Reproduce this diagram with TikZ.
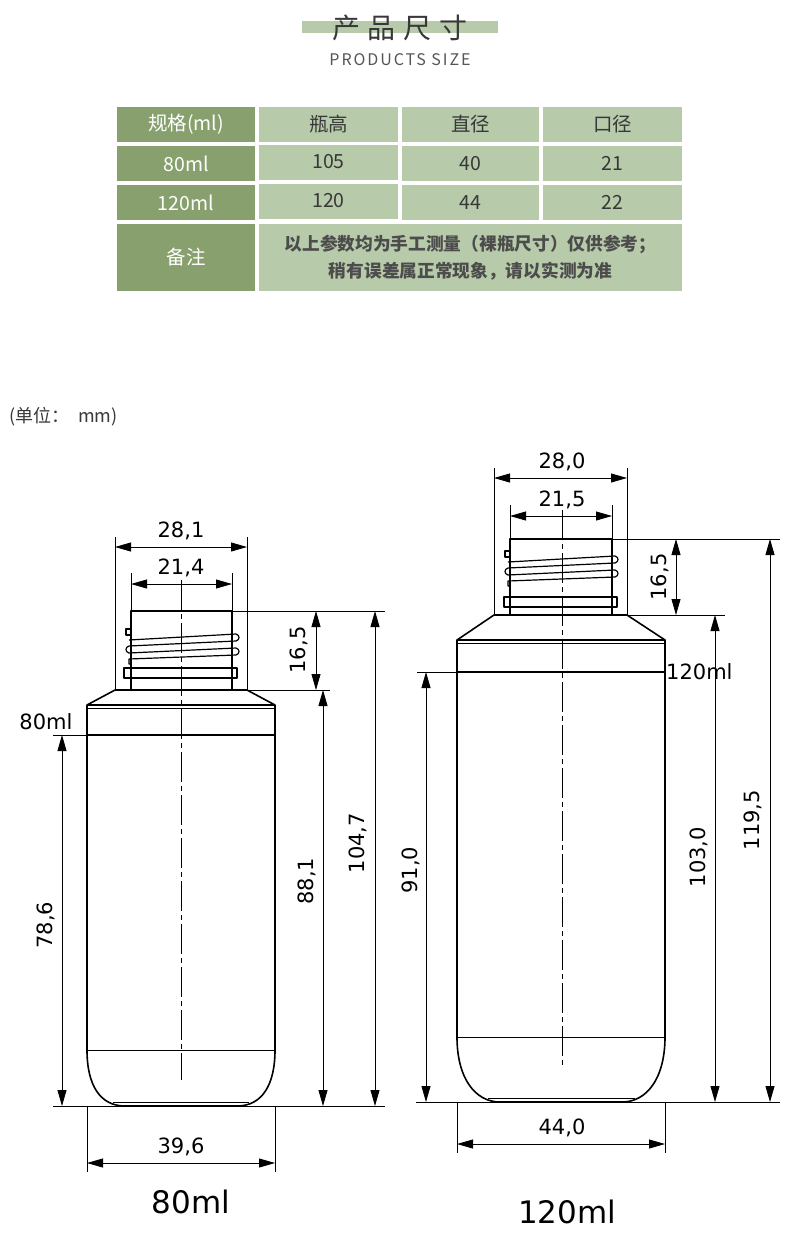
\documentclass[tikz,border=0pt]{standalone}
\usepackage{fontspec}
\usetikzlibrary{arrows.meta}
\newfontfamily\cjk{Noto Sans CJK SC}
\newfontfamily\dv{DejaVu Sans}
\newfontfamily\spacedfont[LetterSpace=12]{Noto Sans CJK SC}
\newcommand\fsz[1]{\fontsize{#1}{#1}\selectfont}
\definecolor{dkgreen}{HTML}{87A06E}
\definecolor{ltgreen}{HTML}{B7CAAA}
\definecolor{txtgrey}{HTML}{383838}
\newcommand\threadset{%
  \draw[threadline] (-5,-11) rectangle (0,-5);
  \draw[threadline] (-2,0)--(105,-6) .. controls (109,-5) and (109,0) .. (105,1) -- (-2,6)
     .. controls (-6,7) and (-6,12) .. (-2,13) -- (105,8) .. controls (109,9) and (109,14) .. (105,15)
     -- (-2,19) -- (-2,24) -- (0,24);
}
\begin{document}
\begin{tikzpicture}[x=1pt,y=-1pt,
 outline/.style={line width=1.6pt,line join=round},
 thinline/.style={line width=0.8pt},
 threadline/.style={line width=1.2pt,line join=round},
 dimline/.style={line width=0.8pt,{Triangle[length=16pt,width=9pt]}-{Triangle[length=16pt,width=9pt]}},
 dimtext/.style={font=\dv\fsz{21}, inner sep=0pt},
 centre/.style={line width=0.8pt, dash pattern=on 30pt off 4pt on 5pt off 4pt},
 cell/.style={inner sep=0pt, minimum height=35pt},
 headtext/.style={font=\cjk\fsz{19.5}, text=white},
 bodytext/.style={font=\cjk\fsz{19.5}, text=txtgrey},
]
\useasboundingbox (0,0) rectangle (800,1240);
\fill[white] (0,0) rectangle (800,1240);

% ---------- title ----------
\node[fill=ltgreen, minimum width=196pt, minimum height=12pt, inner sep=0pt] (bar) at (400,27) {};
\node[font=\cjk\fsz{28}, text=txtgrey] (title) at (400,28) {产\hspace{8pt}品\hspace{8pt}尺\hspace{8pt}寸};
\node[font=\spacedfont\fsz{16}, text=txtgrey!85] (subtitle) at (400,60) {PRODUCTS SIZE};

% ---------- table ----------
\node[cell, fill=dkgreen, minimum width=138pt, headtext] (h1) at (186,124.5) {规格(ml)};
\node[cell, fill=ltgreen, minimum width=139pt, bodytext] (h2) at (328.5,124.5) {瓶高};
\node[cell, fill=ltgreen, minimum width=137pt, bodytext] (h3) at (470.5,124.5) {直径};
\node[cell, fill=ltgreen, minimum width=139pt, bodytext] (h4) at (612.5,124.5) {口径};

\node[cell, fill=dkgreen, minimum width=138pt, headtext] (a1) at (186,163.5) {80ml};
\node[cell, fill=ltgreen, minimum width=139pt, bodytext] (a2) at (328.5,162) {105};
\node[cell, fill=ltgreen, minimum width=137pt, bodytext] (a3) at (470.5,163.5) {40};
\node[cell, fill=ltgreen, minimum width=139pt, bodytext] (a4) at (612.5,163.5) {21};

\node[cell, fill=dkgreen, minimum width=138pt, headtext] (b1) at (186,202.5) {120ml};
\node[cell, fill=ltgreen, minimum width=139pt, bodytext] (b2) at (328.5,201) {120};
\node[cell, fill=ltgreen, minimum width=137pt, bodytext] (b3) at (470.5,202.5) {44};
\node[cell, fill=ltgreen, minimum width=139pt, bodytext] (b4) at (612.5,202.5) {22};

\node[cell, fill=dkgreen, minimum width=138pt, minimum height=67pt, headtext] (c1) at (186,257.5) {备注};
\node[cell, fill=ltgreen, minimum width=423pt, minimum height=67pt, font=\cjk\bfseries\fsz{17.7}, text=txtgrey!90, align=center] (c2) at (470.5,257.5)
  {以上参数均为手工测量（裸瓶尺寸）仅供参考；\\[7pt]稍有误差属正常现象，请以实测为准};

\node[font=\cjk\fsz{18}, text=txtgrey, anchor=west, inner sep=0pt] (unit) at (9,417) {(单位：\hspace{9pt}mm)};

% ================= LEFT BOTTLE (80ml) =================
\draw[centre] (181,580) -- (181,1080);
% neck
\draw[outline] (131,690) -- (131,611) -- (232,611) -- (232,690);
\begin{scope}[shift={(131,640)}]\threadset\end{scope}
\draw[threadline] (124,668) rectangle (237,678);
% shoulder and body
\draw[outline] (87,1050) -- (87,705) -- (115,690) -- (247,690) -- (275,705) -- (275,1050);
\draw[outline] (87,705) -- (275,705);
\draw[thinline] (87,708.5) -- (275,708.5);
\draw[outline] (87,735) -- (275,735);
\draw[thinline] (87,1050) -- (275,1050);
\draw[outline] (87,1050) .. controls (87,1085) and (100,1106) .. (125,1106) -- (237,1106)
   .. controls (262,1106) and (275,1085) .. (275,1050);
\draw[thinline] (113,1102.5) -- (249,1102.5);
% extension lines
\draw[thinline] (53,1106) -- (385,1106);
\draw[thinline] (53,735) -- (87,735);
\draw[thinline] (115,537) -- (115,690);
\draw[thinline] (247,537) -- (247,690);
\draw[thinline] (131,573) -- (131,611);
\draw[thinline] (232,573) -- (232,611);
\draw[thinline] (232,611) -- (385,611);
\draw[thinline] (247,690) -- (330,690);
\draw[thinline] (87,1106) -- (87,1172);
\draw[thinline] (275,1106) -- (275,1172);
% dimensions
\draw[dimline] (115,547) -- (247,547);
\node[dimtext] (d281) at (181,531) {28,1};
\draw[dimline] (131,584) -- (232,584);
\node[dimtext] (d214) at (181,568) {21,4};
\draw[dimline] (316,611) -- (316,690);
\node[dimtext, rotate=90] (d165a) at (299,650) {16,5};
\draw[dimline] (323,690) -- (323,1106);
\node[dimtext, rotate=90] (d881) at (307,881) {88,1};
\draw[dimline] (375,611) -- (375,1106);
\node[dimtext, rotate=90] (d1047) at (358,843) {104,7};
\draw[dimline] (62,735) -- (62,1106);
\node[dimtext, rotate=90] (d786) at (46,925) {78,6};
\draw[dimline] (87,1163) -- (275,1163);
\node[dimtext] (d396) at (181,1147) {39,6};
\node[dimtext] (l80) at (46,722) {80ml};
\node[font=\dv\fsz{31}, inner sep=0pt] (big80) at (191,1202) {80ml};

% ================= RIGHT BOTTLE (120ml) =================
\draw[centre] (562,510) -- (562,1068);
\draw[outline] (510,615) -- (510,539) -- (612,539) -- (612,615);
\begin{scope}[shift={(510,562)}]\threadset\end{scope}
\draw[threadline] (504,597) rectangle (617,607);
\draw[outline] (457,1037) -- (457,640) -- (494,615) -- (627,615) -- (665,640) -- (665,1037);
\draw[outline] (457,640) -- (665,640);
\draw[thinline] (457,643.5) -- (665,643.5);
\draw[outline] (457,672) -- (665,672);
\draw[thinline] (457,1037) -- (665,1037);
\draw[outline] (457,1037) .. controls (457,1078) and (475,1102) .. (500,1102) -- (622,1102)
   .. controls (647,1102) and (665,1078) .. (665,1037);
\draw[thinline] (488,1098.5) -- (635,1098.5);
% extension lines
\draw[thinline] (416,1102) -- (780,1102);
\draw[thinline] (417,672) -- (457,672);
\draw[thinline] (494,468) -- (494,615);
\draw[thinline] (627,468) -- (627,615);
\draw[thinline] (510,505) -- (510,539);
\draw[thinline] (612,505) -- (612,539);
\draw[thinline] (612,539) -- (780,539);
\draw[thinline] (627,615) -- (725,615);
\draw[thinline] (457,1102) -- (457,1153);
\draw[thinline] (665,1102) -- (665,1153);
% dimensions
\draw[dimline] (494,478) -- (627,478);
\node[dimtext] (d280) at (562,462) {28,0};
\draw[dimline] (510,516) -- (612,516);
\node[dimtext] (d215) at (562,500) {21,5};
\draw[dimline] (676,539) -- (676,615);
\node[dimtext, rotate=90] (d165b) at (660,577) {16,5};
\draw[dimline] (715,615) -- (715,1102);
\node[dimtext, rotate=90] (d1030) at (699,857) {103,0};
\draw[dimline] (770,539) -- (770,1102);
\node[dimtext, rotate=90] (d1195) at (753,820) {119,5};
\draw[dimline] (426,672) -- (426,1102);
\node[dimtext, rotate=90] (d910) at (411,870) {91,0};
\draw[dimline] (457,1144) -- (665,1144);
\node[dimtext] (d440) at (562,1128) {44,0};
\node[dimtext, anchor=west] (l120) at (666,672) {120ml};
\node[font=\dv\fsz{31}, inner sep=0pt] (big120) at (567,1212) {120ml};
\end{tikzpicture}
\end{document}
